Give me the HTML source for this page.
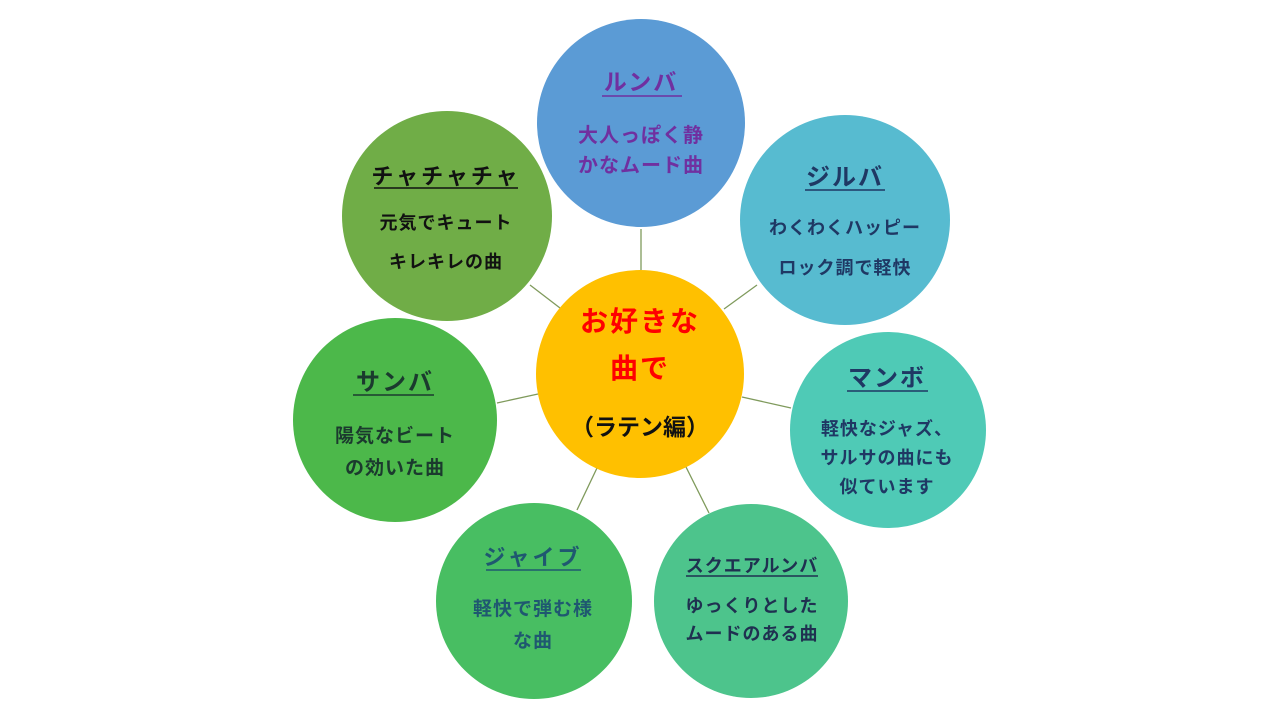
<!DOCTYPE html>
<html><head><meta charset="utf-8"><style>
html,body{margin:0;padding:0;background:#fff;}
svg{display:block;}
text{font-family:"Liberation Sans","Noto Sans CJK JP",sans-serif;font-weight:bold;text-anchor:middle;}
</style></head><body>
<svg width="1280" height="720" viewBox="0 0 1280 720">
<g stroke="#7f9a5c" stroke-width="1.3">
<line x1="641" y1="229" x2="641" y2="270"/>
<line x1="530" y1="285" x2="560" y2="308"/>
<line x1="757" y1="285" x2="724" y2="309"/>
<line x1="497" y1="403" x2="538" y2="394"/>
<line x1="742" y1="397" x2="791" y2="408"/>
<line x1="597" y1="468" x2="577" y2="510"/>
<line x1="686" y1="467" x2="709" y2="513"/>
</g>
<circle cx="641" cy="123" r="104" fill="#5B9BD5"/>
<circle cx="447" cy="216" r="105" fill="#70AD47"/>
<circle cx="845" cy="220" r="105" fill="#57BBD0"/>
<circle cx="640" cy="374" r="104" fill="#FFC000"/>
<circle cx="395" cy="420" r="102" fill="#4CB84A"/>
<circle cx="888" cy="430" r="98" fill="#4FCAB6"/>
<circle cx="534" cy="601" r="98" fill="#48BE62"/>
<circle cx="751" cy="601" r="97" fill="#4DC48C"/>

<g fill="#7030A0">
<text x="641" y="90" font-size="23" letter-spacing="2">ルンバ</text>
<text x="641" y="142" font-size="20" letter-spacing="1">大人っぽく静</text>
<text x="641" y="172" font-size="20" letter-spacing="1">かなムード曲</text>
</g>
<line x1="602" y1="96" x2="682" y2="96" stroke="#7030A0" stroke-width="1.5"/>

<g fill="#111">
<text x="446" y="184" font-size="22" letter-spacing="3">チャチャチャ</text>
<text x="446" y="229" font-size="18" letter-spacing="1">元気でキュート</text>
<text x="446" y="268" font-size="18" letter-spacing="1">キレキレの曲</text>
</g>
<line x1="374" y1="188" x2="518" y2="188" stroke="#111" stroke-width="1.5"/>

<g fill="#1F3864">
<text x="845" y="185" font-size="24" letter-spacing="2">ジルバ</text>
<text x="845" y="234" font-size="18" letter-spacing="1">わくわくハッピー</text>
<text x="845" y="274" font-size="18" letter-spacing="1">ロック調で軽快</text>
</g>
<line x1="805" y1="190" x2="885" y2="190" stroke="#1F3864" stroke-width="1.5"/>

<g fill="#FF0000">
<text x="640" y="331" font-size="28" letter-spacing="2">お好きな</text>
<text x="640" y="378" font-size="28" letter-spacing="2">曲で</text>
</g>
<text x="640" y="435" font-size="23" fill="#111">（ラテン編）</text>

<g fill="#1B3A2E">
<text x="395" y="390" font-size="24" letter-spacing="2">サンバ</text>
<text x="395" y="442" font-size="19" letter-spacing="1">陽気なビート</text>
<text x="395" y="474" font-size="19" letter-spacing="1">の効いた曲</text>
</g>
<line x1="353" y1="395" x2="434" y2="395" stroke="#1B3A2E" stroke-width="1.5"/>

<g fill="#1F3864">
<text x="887" y="386" font-size="24" letter-spacing="2">マンボ</text>
<text x="887" y="435" font-size="18" letter-spacing="1">軽快なジャズ、</text>
<text x="887" y="464" font-size="18" letter-spacing="1">サルサの曲にも</text>
<text x="887" y="493" font-size="18" letter-spacing="1">似ています</text>
</g>
<line x1="847" y1="391" x2="928" y2="391" stroke="#1F3864" stroke-width="1.5"/>

<g fill="#1F5870">
<text x="533" y="565" font-size="22" letter-spacing="3">ジャイブ</text>
<text x="533" y="615" font-size="19" letter-spacing="1">軽快で弾む様</text>
<text x="533" y="647" font-size="19" letter-spacing="1">な曲</text>
</g>
<line x1="486" y1="570" x2="581" y2="570" stroke="#1F5870" stroke-width="1.5"/>

<g fill="#1F3050">
<text x="752" y="572" font-size="18" letter-spacing="1">スクエアルンバ</text>
<text x="752" y="612" font-size="18" letter-spacing="1">ゆっくりとした</text>
<text x="752" y="640" font-size="18" letter-spacing="1">ムードのある曲</text>
</g>
<line x1="686" y1="576" x2="818" y2="576" stroke="#1F3050" stroke-width="1.5"/>
</svg>
</body></html>
